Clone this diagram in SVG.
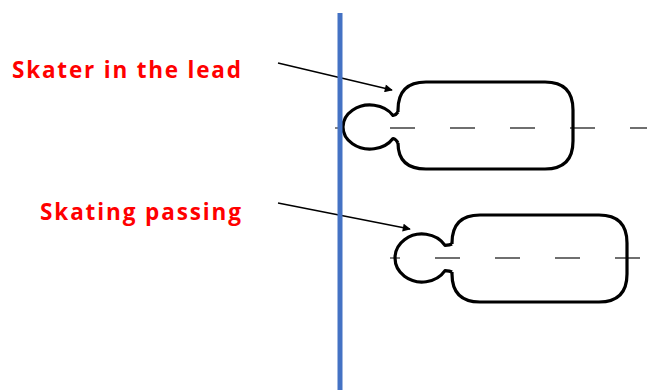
<svg xmlns="http://www.w3.org/2000/svg" width="647" height="390" viewBox="0 0 647 390">
<style>
.lbl{font-family:"Open Sans","Liberation Sans",sans-serif;font-weight:bold;font-size:22.5px;fill:#ff0000}
.sk{fill:none;stroke:#000;stroke-width:3.2;stroke-linejoin:round}
.axis{stroke:#404040;stroke-width:1.3}
.dash{stroke-dasharray:25 35}
.arr{stroke:#000;stroke-width:1.5;fill:none}
</style>
<defs>
<marker id="ah" viewBox="0 0 10 10" refX="9" refY="5" markerWidth="10" markerHeight="8" markerUnits="userSpaceOnUse" orient="auto"><path d="M0,0 L10,5 L0,10 z" fill="#000"/></marker>
</defs>
<rect width="647" height="390" fill="#fff"/>
<g id="axes">
<line class="axis" x1="335" y1="128" x2="344" y2="128"/>
<line class="axis dash" x1="390" y1="128" x2="647" y2="128"/>
<line class="axis" x1="390" y1="258" x2="400" y2="258"/>
<line class="axis dash" x1="435" y1="258" x2="640" y2="258"/>
</g>
<g id="skater-lead">
<path class="sk" d="M398,112 L398,110 Q398,82 426,82 L545,82 Q573,82 573,110 L573,141 Q573,169 545,169 L426,169 Q398,169 398,143"/>
<path class="sk" d="M398,143 Q396,139 393,138.5 A27,22 0 1 1 393,115.5 Q396,115 398,112"/>
</g>
<g id="skater-passing">
<path class="sk" d="M452,244 L452,243 Q452,215 480,215 L599,215 Q627,215 627,243 L627,274 Q627,302 599,302 L480,302 Q452,302 452,274 L452,272"/>
<path class="sk" d="M452,272 Q450,271 445,270.6 A27,24 0 1 1 445,245.4 Q450,245 452,244"/>
</g>
<g id="connectors">
<line class="arr" x1="278" y1="63" x2="392" y2="90" marker-end="url(#ah)"/>
<line class="arr" x1="278" y1="203" x2="410" y2="229" marker-end="url(#ah)"/>
</g>
<line x1="340" y1="13" x2="340" y2="390" stroke="#4472C4" stroke-width="5"/>
<g id="labels">
<text class="lbl" x="12" y="78" textLength="229" lengthAdjust="spacing">Skater in the lead</text>
<text class="lbl" x="40" y="220" textLength="201" lengthAdjust="spacing">Skating passing</text>
</g>
</svg>
